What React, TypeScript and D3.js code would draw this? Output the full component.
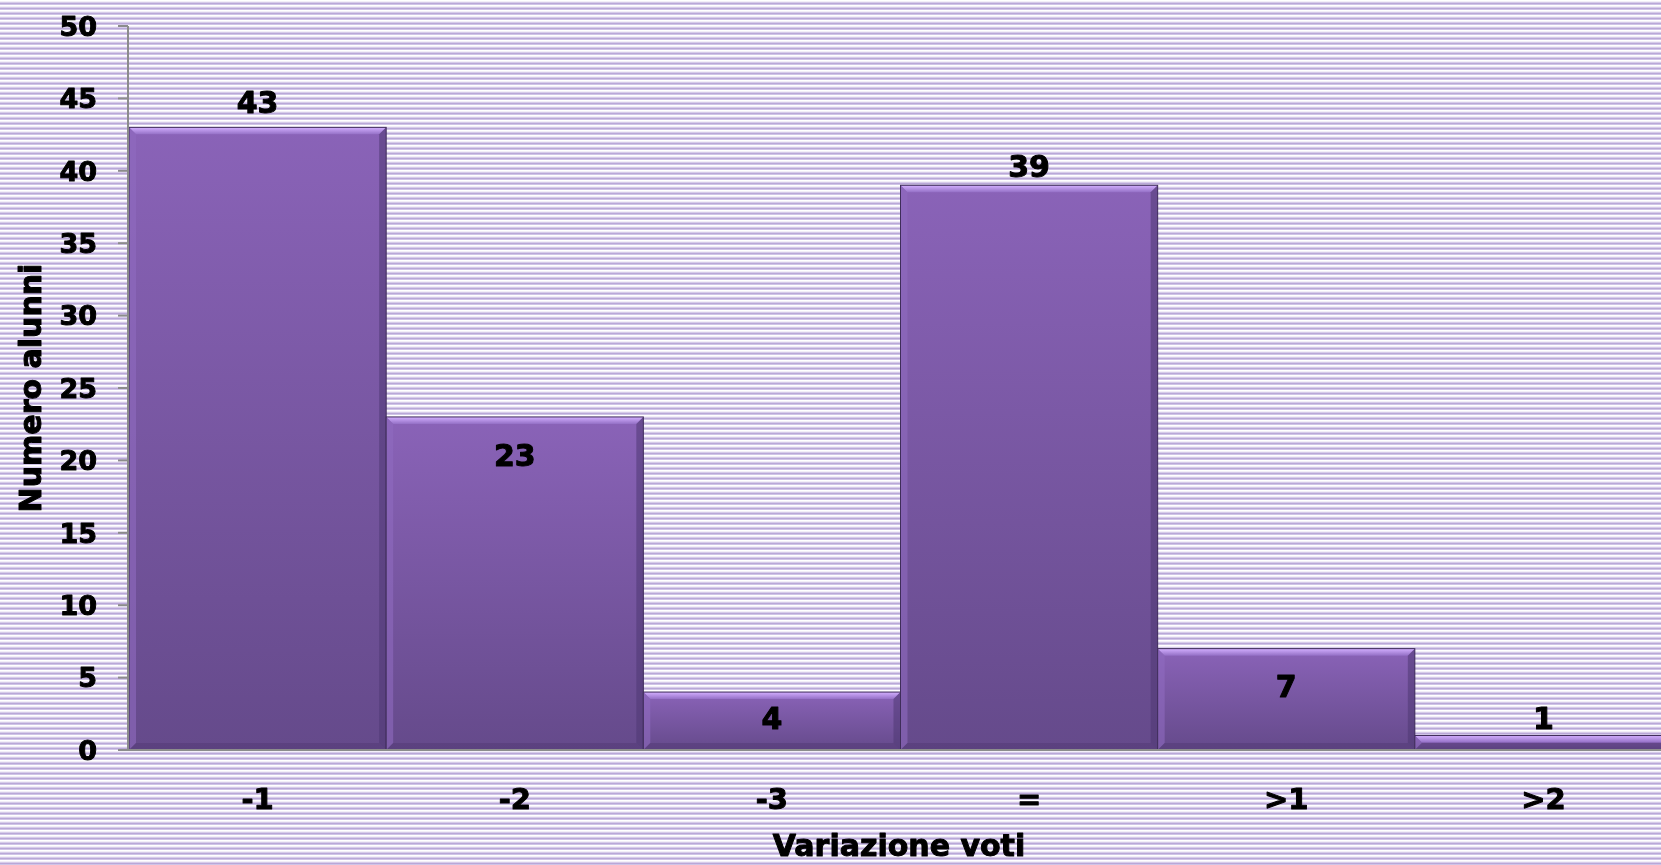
import React from "react";
import * as d3 from "d3";

const categories = ["-1", "-2", "-3", "=", ">1", ">2"];
const values = [43, 23, 4, 39, 7, 1];
const yTicks = [0, 5, 10, 15, 20, 25, 30, 35, 40, 45, 50];
const yTitle = "Numero alunni";
const xTitle = "Variazione voti";

// label baseline offsets (px) from bar top (layout, not data)
const labelOffsets = [-14, 49, 37, -8, 48, -6.5];

const W = 1661;
const H = 865;
const FONT = "'Arial Black', 'DejaVu Sans', sans-serif";

export default function App() {
  const x = d3.scaleBand<string>().domain(categories).range([129, 1672]).padding(0);
  const y = d3.scaleLinear().domain([0, 50]).range([750, 26]);
  const bw = x.bandwidth();

  const textStyle = {
    fontFamily: FONT,
    fontWeight: 900,
    fill: "#000",
    stroke: "#000",
    strokeWidth: 1.0,
    strokeLinejoin: "round",
  } as const;

  return (
    <svg
      width={W}
      height={H}
      style={{ position: "fixed", left: 0, top: 0 }}
      xmlns="http://www.w3.org/2000/svg"
    >
      <defs>
        <pattern id="stripes" width="8" height="5" patternUnits="userSpaceOnUse">
          <rect x="0" y="0" width="8" height="5" fill="#ddd4ec" />
          <rect x="0" y="0" width="8" height="1" fill="#ffffff" />
          <rect x="0" y="1" width="8" height="1" fill="#f3eff8" />
          <rect x="0" y="2" width="8" height="1" fill="#d6cbe9" />
          <rect x="0" y="3" width="8" height="1" fill="#b9a7d8" />
          <rect x="0" y="4" width="8" height="1" fill="#d0c4e6" />
        </pattern>
        <linearGradient id="barGrad" x1="0" y1="0" x2="0" y2="1">
          <stop offset="0" stopColor="#8a63b8" />
          <stop offset="1" stopColor="#654a8b" />
        </linearGradient>
        <linearGradient id="topBevel" x1="0" y1="0" x2="0" y2="1">
          <stop offset="0" stopColor="#d3afff" />
          <stop offset="1" stopColor="#9470c6" />
        </linearGradient>
      </defs>
      <rect x={0} y={0} width={W} height={H} fill="url(#stripes)" />

      {/* bars */}
      {values.map((v, i) => {
        const x0 = x(categories[i])!;
        const x1 = x0 + bw;
        const y0 = y(v);
        const y1 = y(0);
        const h = y1 - y0;
        const b = Math.min(7, h / 2);
        return (
          <g key={i}>
            <rect x={x0} y={y0} width={bw} height={h} fill="url(#barGrad)" />
            <polygon
              points={`${x0},${y0} ${x1},${y0} ${x1 - b},${y0 + b} ${x0 + b},${y0 + b}`}
              fill="url(#topBevel)"
            />
            <polygon
              points={`${x0},${y0} ${x0 + b},${y0 + b} ${x0 + b},${y1 - b} ${x0},${y1}`}
              fill="#8f6bc0"
              opacity={0.6}
            />
            <polygon
              points={`${x1},${y0} ${x1},${y1} ${x1 - b},${y1 - b} ${x1 - b},${y0 + b}`}
              fill="#4f3872"
              opacity={0.55}
            />
            <polygon
              points={`${x0},${y1} ${x1},${y1} ${x1 - b},${y1 - b} ${x0 + b},${y1 - b}`}
              fill="#4f3872"
              opacity={0.45}
            />
            <rect
              x={x0}
              y={y0}
              width={bw}
              height={h}
              fill="none"
              stroke="#3f2d5a"
              strokeWidth={1}
            />
          </g>
        );
      })}

      {/* axes */}
      <line x1={128} x2={128} y1={26} y2={751} stroke="#8c8c8c" strokeWidth={2} />
      <line x1={118} x2={W} y1={750} y2={750} stroke="#8c8c8c" strokeWidth={2} />
      {yTicks.map((t) => (
        <g key={t}>
          <line x1={118} x2={128} y1={y(t)} y2={y(t)} stroke="#8c8c8c" strokeWidth={2} />
          <text
            x={97}
            y={y(t)}
            dy="0.36em"
            textAnchor="end"
            fontSize={27}
            style={textStyle}
          >
            {t}
          </text>
        </g>
      ))}

      {/* x tick labels */}
      {categories.map((c) => (
        <text
          key={c}
          x={x(c)! + bw / 2}
          y={809}
          textAnchor="middle"
          fontSize={29}
          style={textStyle}
        >
          {c}
        </text>
      ))}

      {/* value labels */}
      {values.map((v, i) => (
        <text
          key={i}
          x={x(categories[i])! + bw / 2}
          y={y(v) + labelOffsets[i]}
          textAnchor="middle"
          fontSize={30}
          style={textStyle}
        >
          {v}
        </text>
      ))}

      {/* axis titles */}
      <text
        x={899}
        y={856}
        textAnchor="middle"
        fontSize={30}
        style={textStyle}
      >
        {xTitle}
      </text>
      <text
        transform={`translate(41,388) rotate(-90)`}
        textAnchor="middle"
        fontSize={30}
        style={textStyle}
      >
        {yTitle}
      </text>
    </svg>
  );
}
